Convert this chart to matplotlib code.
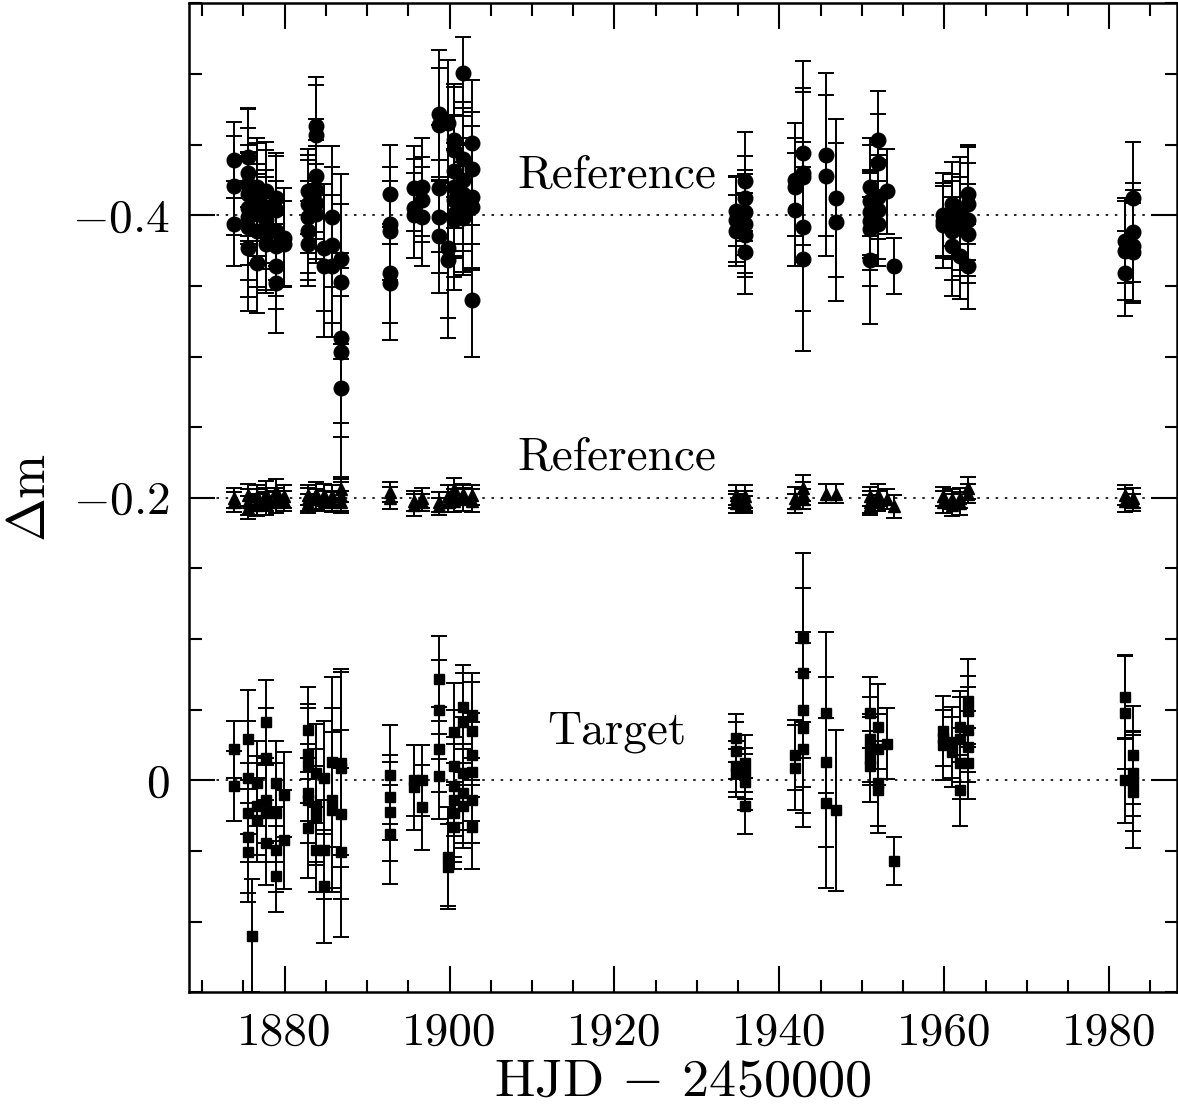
import matplotlib
matplotlib.use("Agg")
import matplotlib.pyplot as plt
from matplotlib.ticker import MultipleLocator

plt.rcParams['font.family'] = ['cmr10', 'DejaVu Serif']
plt.rcParams['mathtext.fontset'] = 'cm'
plt.rcParams['axes.unicode_minus'] = False

# --- first reference star (circles, shifted to -0.4) ---
circ_x = [1873.9, 1873.9, 1873.9,
          1875.6, 1875.6, 1875.6, 1875.6, 1875.6, 1875.6, 1875.6, 1875.6,
          1876.6, 1876.6, 1876.6, 1876.6, 1876.6,
          1877.7, 1877.7, 1877.7, 1877.7, 1877.7,
          1878.9, 1878.9, 1878.9, 1878.9, 1878.9, 1878.9,
          1879.9, 1879.9,
          1882.8, 1882.8, 1882.8, 1882.8, 1882.8,
          1883.8, 1883.8, 1883.8, 1883.8, 1883.8, 1883.8,
          1884.8, 1884.8,
          1885.8, 1885.8, 1885.8,
          1886.8, 1886.8, 1886.8, 1886.8, 1886.8,
          1892.8, 1892.8, 1892.8, 1892.8, 1892.8,
          1895.7, 1895.7, 1895.7,
          1896.7, 1896.7, 1896.7,
          1898.7, 1898.7, 1898.7, 1898.7, 1898.7,
          1899.8, 1899.8, 1899.8,
          1900.6, 1900.6, 1900.6, 1900.6, 1900.6, 1900.6, 1900.6,
          1901.6, 1901.6, 1901.6, 1901.6, 1901.6, 1901.6,
          1902.7, 1902.7, 1902.7, 1902.7, 1902.7,
          1934.8, 1934.8, 1934.8,
          1935.8, 1935.8, 1935.8, 1935.8, 1935.8, 1935.8,
          1941.9, 1941.9, 1941.9,
          1942.9, 1942.9, 1942.9, 1942.9, 1942.9,
          1945.7, 1945.7,
          1946.9, 1946.9,
          1951.0, 1951.0, 1951.0, 1951.0, 1951.0, 1951.0,
          1952.0, 1952.0, 1952.0, 1952.0, 1952.0,
          1953.0, 1953.9,
          1959.9, 1959.9, 1959.9,
          1960.9, 1960.9, 1960.9, 1960.9,
          1961.9, 1961.9, 1961.9,
          1962.9, 1962.9, 1962.9, 1962.9, 1962.9,
          1981.9, 1981.9, 1981.9,
          1982.9, 1982.9, 1982.9, 1982.9]
circ_y = [-0.439, -0.421, -0.394,
          -0.441, -0.430, -0.422, -0.415, -0.405, -0.399, -0.392, -0.377,
          -0.420, -0.411, -0.401, -0.389, -0.366,
          -0.417, -0.406, -0.397, -0.387, -0.380,
          -0.412, -0.404, -0.389, -0.378, -0.364, -0.352,
          -0.380, -0.384,
          -0.417, -0.408, -0.399, -0.389, -0.380,
          -0.463, -0.457, -0.428, -0.418, -0.409, -0.401,
          -0.377, -0.364,
          -0.399, -0.379, -0.364,
          -0.369, -0.353, -0.313, -0.303, -0.278,
          -0.415, -0.394, -0.389, -0.359, -0.352,
          -0.419, -0.405, -0.400,
          -0.420, -0.411, -0.399,
          -0.472, -0.464, -0.419, -0.399, -0.385,
          -0.465, -0.377, -0.368,
          -0.453, -0.446, -0.431, -0.420, -0.411, -0.401, -0.397,
          -0.501, -0.440, -0.425, -0.415, -0.405, -0.398,
          -0.451, -0.433, -0.413, -0.406, -0.340,
          -0.403, -0.397, -0.389,
          -0.424, -0.412, -0.402, -0.394, -0.386, -0.374,
          -0.425, -0.420, -0.404,
          -0.444, -0.430, -0.427, -0.392, -0.369,
          -0.443, -0.428,
          -0.412, -0.395,
          -0.420, -0.410, -0.402, -0.396, -0.390, -0.368,
          -0.453, -0.437, -0.413, -0.404, -0.394,
          -0.417, -0.364,
          -0.400, -0.396, -0.393,
          -0.408, -0.399, -0.389, -0.378,
          -0.401, -0.392, -0.371,
          -0.415, -0.408, -0.397, -0.387, -0.364,
          -0.382, -0.375, -0.359,
          -0.412, -0.388, -0.378, -0.374]
circ_err = [0.027, 0.035, 0.03,
            0.035, 0.045, 0.04, 0.035, 0.04, 0.045, 0.05, 0.045,
            0.035, 0.04, 0.035, 0.04, 0.035,
            0.035, 0.04, 0.035, 0.04, 0.035,
            0.03, 0.04, 0.035, 0.035, 0.03, 0.035,
            0.03, 0.035,
            0.03, 0.035, 0.04, 0.035, 0.03,
            0.035, 0.035, 0.04, 0.035, 0.04, 0.035,
            0.045, 0.05,
            0.05, 0.055, 0.05,
            0.06, 0.055, 0.06, 0.06, 0.065,
            0.035, 0.04, 0.035, 0.035, 0.04,
            0.03, 0.035, 0.03,
            0.035, 0.03, 0.035,
            0.045, 0.04, 0.045, 0.04, 0.04,
            0.045, 0.05, 0.055,
            0.04, 0.045, 0.04, 0.05, 0.04, 0.045, 0.05,
            0.025, 0.04, 0.045, 0.04, 0.045, 0.04,
            0.045, 0.04, 0.05, 0.045, 0.04,
            0.025, 0.03, 0.025,
            0.035, 0.03, 0.03, 0.035, 0.03, 0.03,
            0.04, 0.035, 0.04,
            0.065, 0.06, 0.06, 0.06, 0.065,
            0.058, 0.057,
            0.056, 0.056,
            0.035, 0.04, 0.03, 0.035, 0.04, 0.045,
            0.035, 0.035, 0.03, 0.035, 0.03,
            0.03, 0.02,
            0.03, 0.025, 0.03,
            0.03, 0.03, 0.035, 0.035,
            0.04, 0.035, 0.03,
            0.035, 0.04, 0.04, 0.035, 0.03,
            0.03, 0.035, 0.03,
            0.04, 0.035, 0.04, 0.035]

# --- second reference star (triangles, shifted to -0.2) ---
tri_x = [1873.9, 1873.9,
         1875.6, 1875.6, 1875.6, 1876.6, 1876.6, 1876.6, 1877.7, 1877.7, 1877.7,
         1878.9, 1878.9, 1878.9, 1879.9, 1879.9,
         1882.8, 1882.8, 1882.8, 1883.8, 1883.8, 1884.8, 1884.8, 1885.8, 1885.8,
         1886.8, 1886.8, 1886.8,
         1892.8, 1892.8, 1895.7, 1895.7, 1896.7, 1896.7,
         1898.7, 1898.7, 1899.8, 1899.8, 1900.6, 1900.6, 1900.6,
         1901.6, 1901.6, 1902.7, 1902.7,
         1934.8, 1934.8, 1934.8, 1935.8, 1935.8, 1935.8,
         1941.9, 1941.9, 1942.9, 1942.9, 1942.9,
         1945.7, 1946.9,
         1951.0, 1951.0, 1951.0, 1952.0, 1952.0, 1953.0, 1953.9,
         1959.9, 1959.9, 1960.9, 1960.9, 1961.9, 1961.9, 1962.9, 1962.9,
         1981.9, 1981.9, 1982.9, 1982.9]
tri_y = [-0.200, -0.197,
         -0.202, -0.197, -0.193, -0.201, -0.197, -0.195, -0.203, -0.199, -0.196,
         -0.205, -0.200, -0.197, -0.201, -0.198,
         -0.202, -0.199, -0.196, -0.203, -0.199, -0.202, -0.198, -0.201, -0.197,
         -0.206, -0.201, -0.197,
         -0.204, -0.200, -0.198, -0.195, -0.200, -0.197,
         -0.197, -0.194, -0.201, -0.197, -0.206, -0.202, -0.198,
         -0.203, -0.199, -0.202, -0.198,
         -0.202, -0.199, -0.196, -0.201, -0.198, -0.195,
         -0.200, -0.196, -0.207, -0.203, -0.199,
         -0.203, -0.203,
         -0.201, -0.197, -0.195, -0.202, -0.198, -0.199, -0.194,
         -0.201, -0.197, -0.199, -0.195, -0.200, -0.196, -0.207, -0.203,
         -0.202, -0.198, -0.200, -0.197]
tri_err = [0.007, 0.007,
           0.008, 0.009, 0.008, 0.008, 0.009, 0.008, 0.009, 0.008, 0.008,
           0.008, 0.007, 0.008, 0.008, 0.007,
           0.007, 0.008, 0.007, 0.008, 0.007, 0.008, 0.007, 0.008, 0.007,
           0.009, 0.01, 0.008,
           0.007, 0.008, 0.007, 0.008, 0.007, 0.006,
           0.007, 0.006, 0.008, 0.007, 0.008, 0.007, 0.008,
           0.007, 0.008, 0.007, 0.008,
           0.007, 0.006, 0.007, 0.008, 0.007, 0.006,
           0.008, 0.007, 0.009, 0.008, 0.007,
           0.007, 0.007,
           0.007, 0.008, 0.007, 0.008, 0.007, 0.007, 0.008,
           0.007, 0.008, 0.007, 0.008, 0.007, 0.008, 0.008, 0.007,
           0.007, 0.008, 0.007, 0.006]

# --- target (squares) ---
sq_x = [1873.9, 1873.9,
        1875.6, 1875.6, 1875.6, 1875.6, 1875.6, 1876.0,
        1876.6, 1876.6, 1876.6,
        1877.7, 1877.7, 1877.7, 1877.7, 1877.7,
        1878.9, 1878.9, 1878.9, 1878.9,
        1879.9, 1879.9,
        1882.8, 1882.8, 1882.8, 1882.8, 1882.8, 1882.8,
        1883.8, 1883.8, 1883.8, 1883.8,
        1884.8, 1884.8, 1884.8,
        1885.8, 1885.8, 1885.8,
        1886.8, 1886.8, 1886.8, 1886.8,
        1892.8, 1892.8, 1892.8, 1892.8,
        1895.7, 1895.7, 1896.7, 1896.7,
        1898.7, 1898.7, 1898.7, 1898.7,
        1899.8, 1899.8,
        1900.6, 1900.6, 1900.6, 1900.6, 1900.6, 1900.6,
        1901.6, 1901.6, 1901.6, 1901.6, 1901.6,
        1902.7, 1902.7, 1902.7, 1902.7, 1902.7, 1902.7,
        1934.8, 1934.8, 1934.8, 1934.8,
        1935.8, 1935.8, 1935.8, 1935.8,
        1941.9, 1941.9,
        1942.9, 1942.9, 1942.9, 1942.9, 1942.9,
        1945.7, 1945.7, 1945.7,
        1946.9,
        1951.0, 1951.0, 1951.0, 1951.0, 1951.0,
        1952.0, 1952.0, 1952.0, 1952.0,
        1953.0, 1953.9,
        1959.9, 1959.9, 1959.9,
        1960.9, 1960.9,
        1961.9, 1961.9, 1961.9, 1961.9,
        1962.9, 1962.9, 1962.9, 1962.9, 1962.9,
        1981.9, 1981.9, 1981.9,
        1982.9, 1982.9, 1982.9, 1982.9]
sq_y = [-0.022, 0.004,
        -0.029, -0.002, 0.023, 0.040, 0.051, 0.110,
        0.002, 0.018, 0.028,
        -0.041, -0.016, 0.014, 0.023, 0.044,
        0.002, 0.023, 0.049, 0.068,
        0.010, 0.042,
        -0.036, -0.019, -0.011, 0.009, 0.014, 0.034,
        -0.005, 0.018, 0.025, 0.049,
        -0.002, 0.049, 0.075,
        -0.013, 0.014, 0.021,
        -0.012, -0.009, 0.024, 0.051,
        -0.004, 0.012, 0.022, 0.038,
        0.000, 0.005, 0.000, 0.019,
        -0.072, -0.050, -0.022, -0.003,
        0.054, 0.061,
        -0.034, -0.010, 0.004, 0.014, 0.023, 0.033,
        -0.052, -0.041, -0.005, 0.009, 0.018,
        -0.046, -0.035, -0.018, -0.006, 0.014, 0.033,
        -0.030, -0.021, -0.010, -0.005,
        -0.012, -0.005, 0.001, 0.018,
        -0.018, -0.009,
        -0.101, -0.076, -0.050, -0.037, -0.022,
        -0.048, -0.013, 0.016,
        0.021,
        -0.048, -0.029, -0.022, -0.015, -0.010,
        -0.038, -0.022, 0.002, 0.007,
        -0.026, 0.057,
        -0.035, -0.030, -0.025,
        -0.027, -0.020,
        -0.038, -0.029, -0.012, 0.007,
        -0.056, -0.049, -0.036, -0.024, -0.012,
        -0.059, -0.048, 0.000,
        -0.018, -0.005, 0.001, 0.008]
sq_err = [0.02, 0.025,
          0.035, 0.04, 0.035, 0.04, 0.035, 0.04,
          0.03, 0.035, 0.03,
          0.03, 0.035, 0.03, 0.035, 0.03,
          0.03, 0.035, 0.03, 0.025,
          0.03, 0.035,
          0.03, 0.035, 0.04, 0.035, 0.03, 0.035,
          0.035, 0.04, 0.035, 0.03,
          0.04, 0.035, 0.04,
          0.06, 0.065, 0.055,
          0.065, 0.07, 0.06, 0.06,
          0.035, 0.03, 0.035, 0.035,
          0.025, 0.03, 0.025, 0.03,
          0.03, 0.035, 0.03, 0.03,
          0.035, 0.03,
          0.035, 0.04, 0.035, 0.04, 0.035, 0.03,
          0.03, 0.035, 0.04, 0.035, 0.03,
          0.03, 0.035, 0.03, 0.035, 0.03, 0.03,
          0.017, 0.02, 0.018, 0.017,
          0.02, 0.018, 0.02, 0.02,
          0.025, 0.03,
          0.06, 0.06, 0.055, 0.06, 0.055,
          0.057, 0.06, 0.06,
          0.057,
          0.025, 0.03, 0.025, 0.03, 0.025,
          0.03, 0.025, 0.03, 0.03,
          0.025, 0.017,
          0.025, 0.02, 0.025,
          0.025, 0.025,
          0.025, 0.03, 0.025, 0.025,
          0.03, 0.025, 0.03, 0.025, 0.025,
          0.03, 0.04, 0.03,
          0.035, 0.03, 0.035, 0.04]

zero_levels = [-0.4, -0.2, 0.0]
labels = ['Reference', 'Reference', 'Target']
label_pos = [(1920.3, -0.428), (1920.3, -0.228), (1920.3, -0.034)]
ytick_vals = [-0.4, -0.2, 0.0]
ytick_text = [r'$-0.4$', r'$-0.2$', r'$0$']

fig = plt.figure(figsize=(11.78, 11.12), dpi=100)
ax = fig.add_axes([0.1604, 0.1076, 0.8386, 0.8894])

for lev in zero_levels:
    ax.axhline(lev, color='black', lw=1.2, ls=(0, (1.5, 4)), zorder=1)

eb = dict(fmt='none', ecolor='black', elinewidth=1.4, capsize=5.5, capthick=1.4, zorder=2)
ax.errorbar(circ_x, circ_y, yerr=circ_err, **eb)
ax.errorbar(tri_x, tri_y, yerr=tri_err, **eb)
ax.errorbar(sq_x, sq_y, yerr=sq_err, **eb)
ax.plot(circ_x, circ_y, 'o', color='black', ms=10.5, ls='none', zorder=3)
ax.plot(tri_x, tri_y, '^', color='black', ms=8, ls='none', zorder=3)
ax.plot(sq_x, sq_y, 's', color='black', ms=7.5, ls='none', zorder=3)

for txt, (tx, ty) in zip(labels, label_pos):
    ax.text(tx, ty, txt, ha='center', va='center', fontsize=34)

ax.set_xlim(1868.4, 1988.2)
ax.set_ylim(0.15, -0.55)
ax.xaxis.set_major_locator(MultipleLocator(20))
ax.xaxis.set_minor_locator(MultipleLocator(5))
ax.yaxis.set_minor_locator(MultipleLocator(0.05))
ax.set_yticks(ytick_vals, ytick_text)
ax.tick_params(which='both', direction='in', top=True, right=True, width=1.5,
               labelsize=34, pad=14)
ax.tick_params(which='major', length=19)
ax.tick_params(which='minor', length=9)
for s in ax.spines.values():
    s.set_linewidth(1.8)

ax.set_xlabel(r'HJD $-$ 2450000', fontsize=39, labelpad=4)
ax.set_ylabel(r'$\Delta$m', fontsize=38, labelpad=12)

fig.savefig('out.png', dpi=100)
